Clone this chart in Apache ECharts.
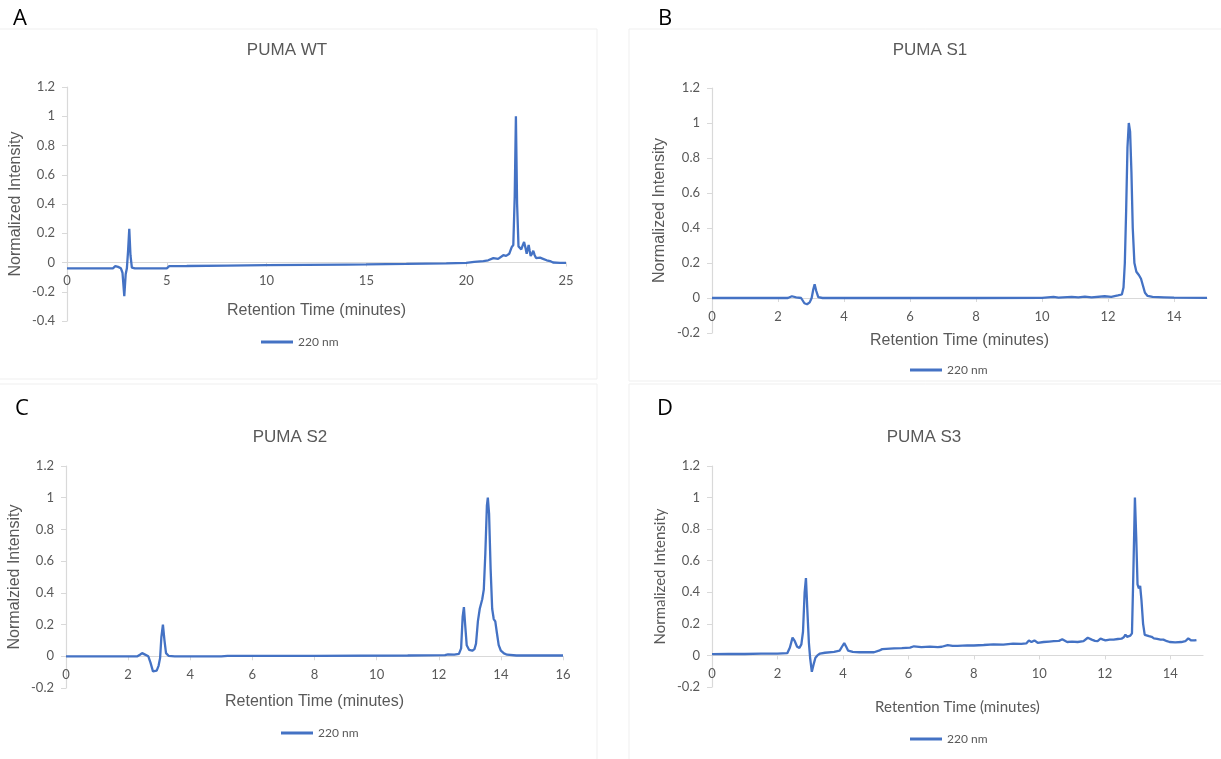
<!DOCTYPE html>
<html>
<head>
<meta charset="utf-8">
<script src="https://cdn.jsdelivr.net/npm/echarts@6/dist/echarts.min.js"></script>
<style>
html,body{margin:0;padding:0;background:#fff;}
#chart{width:1221px;height:759px;}
</style>
</head>
<body>
<div id="chart"></div>
<script>
// ---- Data (retention time in minutes, normalized intensity) ----
const panelTitles = ['PUMA WT', 'PUMA S1', 'PUMA S2', 'PUMA S3'];
const panelLetters = ['A', 'B', 'C', 'D'];
const yAxisTitles = ['Normalized Intensity', 'Normalized Intensity', 'Normalzied Intensity', 'Normalized Intensity'];
const xAxisTitle = 'Retention Time (minutes)';
const seriesName = '220 nm';
const xMax = [25, 15, 16, 15];
const xStep = [5, 2, 2, 2];
const yMin = [-0.4, -0.2, -0.2, -0.2];
const yMax = [1.2, 1.2, 1.2, 1.2];
const yStep = [0.2, 0.2, 0.2, 0.2];

const traceWT = [[0,-0.04],[2.3,-0.04],[2.42,-0.025],[2.49,-0.016],[2.56,-0.03],[2.7,-0.04],[2.78,-0.07],[2.87,-0.23],[2.94,-0.08],[3.0,-0.04],[3.06,0.08],[3.12,0.23],[3.18,0.05],[3.25,-0.035],[3.4,-0.04],[5.0,-0.04],[5.12,-0.025],[6,-0.024],[8,-0.021],[10,-0.018],[12,-0.016],[14,-0.014],[15,-0.013],[17,-0.01],[19,-0.006],[19.5,-0.004],[20,-0.002],[20.4,0.004],[20.86,0.01],[21.1,0.015],[21.36,0.03],[21.6,0.025],[21.86,0.05],[22.0,0.045],[22.16,0.06],[22.28,0.105],[22.36,0.12],[22.43,0.45],[22.49,1.0],[22.55,0.4],[22.62,0.11],[22.7,0.105],[22.76,0.09],[22.84,0.12],[22.9,0.14],[22.97,0.1],[23.03,0.06],[23.08,0.09],[23.13,0.12],[23.18,0.08],[23.23,0.045],[23.3,0.06],[23.36,0.08],[23.43,0.05],[23.5,0.03],[23.6,0.035],[23.7,0.033],[23.85,0.025],[24.03,0.015],[24.2,0.01],[24.35,0.0],[24.7,-0.002],[25,-0.003]];

const traceS1 = [[0,0],[2.3,0],[2.42,0.01],[2.55,0.004],[2.7,0.0],[2.8,-0.03],[2.88,-0.036],[2.96,-0.025],[3.02,0.0],[3.07,0.05],[3.11,0.078],[3.16,0.04],[3.22,0.005],[3.35,0],[5,0],[8,0],[10,0.001],[10.35,0.006],[10.5,0.002],[10.9,0.007],[11.1,0.003],[11.3,0.008],[11.5,0.004],[11.9,0.01],[12.1,0.007],[12.3,0.015],[12.42,0.02],[12.47,0.06],[12.51,0.2],[12.55,0.5],[12.59,0.86],[12.63,1.0],[12.67,0.95],[12.71,0.72],[12.75,0.4],[12.8,0.2],[12.86,0.15],[12.94,0.13],[13.0,0.11],[13.06,0.07],[13.12,0.03],[13.2,0.012],[13.35,0.006],[13.7,0.004],[14,0.002],[15,0.001]];

const traceS2 = [[0,0],[2.3,0],[2.38,0.01],[2.45,0.02],[2.53,0.012],[2.65,0.0],[2.72,-0.04],[2.8,-0.095],[2.85,-0.105],[2.92,-0.09],[2.98,-0.06],[3.03,-0.01],[3.07,0.12],[3.12,0.2],[3.17,0.1],[3.22,0.02],[3.3,0.003],[3.5,0],[5,0],[5.2,0.003],[8,0.003],[11,0.005],[12.2,0.007],[12.3,0.012],[12.5,0.01],[12.65,0.015],[12.72,0.05],[12.77,0.25],[12.81,0.31],[12.85,0.2],[12.9,0.07],[12.98,0.04],[13.08,0.035],[13.15,0.045],[13.2,0.08],[13.26,0.22],[13.32,0.3],[13.4,0.36],[13.45,0.42],[13.5,0.65],[13.55,0.95],[13.58,1.0],[13.62,0.9],[13.67,0.55],[13.72,0.3],[13.77,0.235],[13.82,0.22],[13.87,0.15],[13.93,0.07],[14.0,0.035],[14.1,0.018],[14.2,0.01],[14.5,0.005],[16,0.005]];

const traceS3 = [[0,0.008],[0.5,0.01],[1,0.009],[1.5,0.011],[2,0.012],[2.3,0.014],[2.38,0.05],[2.46,0.113],[2.53,0.09],[2.6,0.055],[2.67,0.048],[2.73,0.07],[2.78,0.15],[2.83,0.4],[2.87,0.49],[2.91,0.3],[2.96,0.08],[3.0,-0.02],[3.05,-0.104],[3.1,-0.06],[3.16,-0.015],[3.22,0.0],[3.3,0.012],[3.45,0.017],[3.73,0.022],[3.9,0.03],[3.97,0.055],[4.04,0.078],[4.1,0.055],[4.16,0.03],[4.3,0.022],[4.5,0.02],[4.95,0.02],[5.1,0.03],[5.2,0.04],[5.56,0.045],[5.8,0.046],[6.05,0.05],[6.17,0.058],[6.4,0.053],[6.66,0.056],[6.9,0.053],[7.02,0.055],[7.2,0.065],[7.35,0.06],[7.5,0.06],[7.8,0.064],[8.0,0.063],[8.3,0.066],[8.6,0.07],[8.9,0.068],[9.2,0.075],[9.45,0.073],[9.6,0.076],[9.68,0.095],[9.76,0.085],[9.85,0.095],[9.95,0.08],[10.13,0.085],[10.3,0.088],[10.44,0.09],[10.6,0.092],[10.7,0.102],[10.85,0.085],[11.0,0.087],[11.17,0.085],[11.35,0.09],[11.48,0.112],[11.6,0.1],[11.7,0.092],[11.78,0.09],[11.87,0.106],[11.95,0.1],[12.02,0.095],[12.15,0.1],[12.27,0.1],[12.4,0.104],[12.51,0.106],[12.58,0.115],[12.63,0.132],[12.68,0.118],[12.72,0.11],[12.78,0.125],[12.83,0.14],[12.87,0.5],[12.92,1.0],[12.96,0.75],[13.0,0.45],[13.04,0.425],[13.08,0.44],[13.12,0.35],[13.17,0.2],[13.22,0.13],[13.27,0.12],[13.35,0.122],[13.43,0.118],[13.5,0.108],[13.6,0.105],[13.7,0.1],[13.79,0.1],[13.9,0.09],[13.98,0.085],[14.15,0.083],[14.34,0.085],[14.46,0.09],[14.55,0.108],[14.59,0.112],[14.64,0.095],[14.68,0.085],[14.74,0.095],[14.8,0.097]];

const traces = [traceWT, traceS1, traceS2, traceS3];

// ---- Layout ----
const grids = [
  {left: 67, top: 87, width: 499, height: 234},
  {left: 712, top: 88, width: 495, height: 245},
  {left: 66, top: 466, width: 497, height: 222},
  {left: 712, top: 466, width: 491, height: 221}
];
const xNameGap = [40, 35, 37, 44];
const yNameGap = [43, 44, 43, 44];
const titlePos = [[287, 50], [930, 50], [290, 437], [924, 437]];
const letterPos = [[20, 19], [665, 19], [22, 409], [665, 409]];
const legendPos = [[256, 331], [905, 359], [276, 722], [905, 728]];
const nameFonts = ['Liberation Sans', 'Liberation Sans', 'Liberation Sans', 'Lato'];
const nameSizes = [16, 16, 16, 15];

const GRAY_TXT = '#595959';
const AXIS_GRAY = '#d9d9d9';
const BLUE = '#4472C4';

// x axis sits on the y=0 line: shift it up from the grid bottom
const zeroOffset = grids.map((g, i) => -g.height * (0 - yMin[i]) / (yMax[i] - yMin[i]));

const option = {
  animation: false,
  backgroundColor: '#ffffff',
  grid: grids.map(g => Object.assign({containLabel: false}, g)),
  xAxis: grids.map((g, i) => ({
    type: 'value', gridIndex: i, min: 0, max: xMax[i], interval: xStep[i],
    position: 'bottom', offset: zeroOffset[i],
    axisLine: {show: true, onZero: false, lineStyle: {color: AXIS_GRAY, width: 1.2}},
    axisTick: {show: true, length: 4, inside: false, lineStyle: {color: AXIS_GRAY}},
    splitLine: {show: false},
    axisLabel: {color: GRAY_TXT, fontFamily: 'Lato', fontSize: 13, margin: 12, showMaxLabel: xMax[i] % xStep[i] === 0},
    name: xAxisTitle, nameLocation: 'middle', nameGap: xNameGap[i],
    nameTextStyle: {color: GRAY_TXT, fontFamily: nameFonts[i], fontSize: nameSizes[i]}
  })),
  yAxis: grids.map((g, i) => ({
    type: 'value', gridIndex: i, min: yMin[i], max: yMax[i], interval: yStep[i],
    axisLine: {show: true, onZero: false, lineStyle: {color: AXIS_GRAY, width: 1.2}},
    axisTick: {show: true, length: 5, inside: false, lineStyle: {color: AXIS_GRAY}},
    splitLine: {show: false},
    axisLabel: {color: GRAY_TXT, fontFamily: 'Lato', fontSize: 13, margin: 12},
    name: yAxisTitles[i], nameLocation: 'middle', nameGap: yNameGap[i],
    nameTextStyle: {color: GRAY_TXT, fontFamily: nameFonts[i], fontSize: nameSizes[i]}
  })),
  legend: legendPos.map(p => ({
    left: p[0], top: p[1], data: [seriesName], icon: 'rect',
    itemWidth: 32, itemHeight: 3, selectedMode: false,
    textStyle: {color: GRAY_TXT, fontFamily: 'Lato', fontSize: 12}
  })),
  series: traces.map((d, i) => ({
    name: seriesName, type: 'line', xAxisIndex: i, yAxisIndex: i,
    data: d, showSymbol: false, symbol: 'none', smooth: false,
    lineStyle: {color: BLUE, width: 2.3}, itemStyle: {color: BLUE},
    z: 3
  })),
  graphic: [
    {type: 'rect', shape: {x: -1, y: 29, width: 598, height: 350}, style: {fill: 'none', stroke: '#efefef', lineWidth: 1}, silent: true, z: -1},
    {type: 'rect', shape: {x: 629, y: 29, width: 600, height: 352}, style: {fill: 'none', stroke: '#efefef', lineWidth: 1}, silent: true, z: -1},
    {type: 'rect', shape: {x: -1, y: 384, width: 598, height: 380}, style: {fill: 'none', stroke: '#efefef', lineWidth: 1}, silent: true, z: -1},
    {type: 'rect', shape: {x: 629, y: 384, width: 600, height: 380}, style: {fill: 'none', stroke: '#efefef', lineWidth: 1}, silent: true, z: -1}
  ].concat(panelTitles.map((t, i) => ({
    type: 'text', x: titlePos[i][0], y: titlePos[i][1], silent: true,
    style: {text: t, fill: GRAY_TXT, font: '17px "Liberation Sans"', align: 'center', verticalAlign: 'middle'}
  }))).concat(panelLetters.map((t, i) => ({
    type: 'text', x: letterPos[i][0], y: letterPos[i][1], silent: true,
    style: {text: t, fill: '#000000', font: '22px "Open Sans"', align: 'center', verticalAlign: 'middle'}
  })))
};

const chart = echarts.init(document.getElementById('chart'), null, {renderer: 'canvas'});
chart.setOption(option);
</script>
</body>
</html>
